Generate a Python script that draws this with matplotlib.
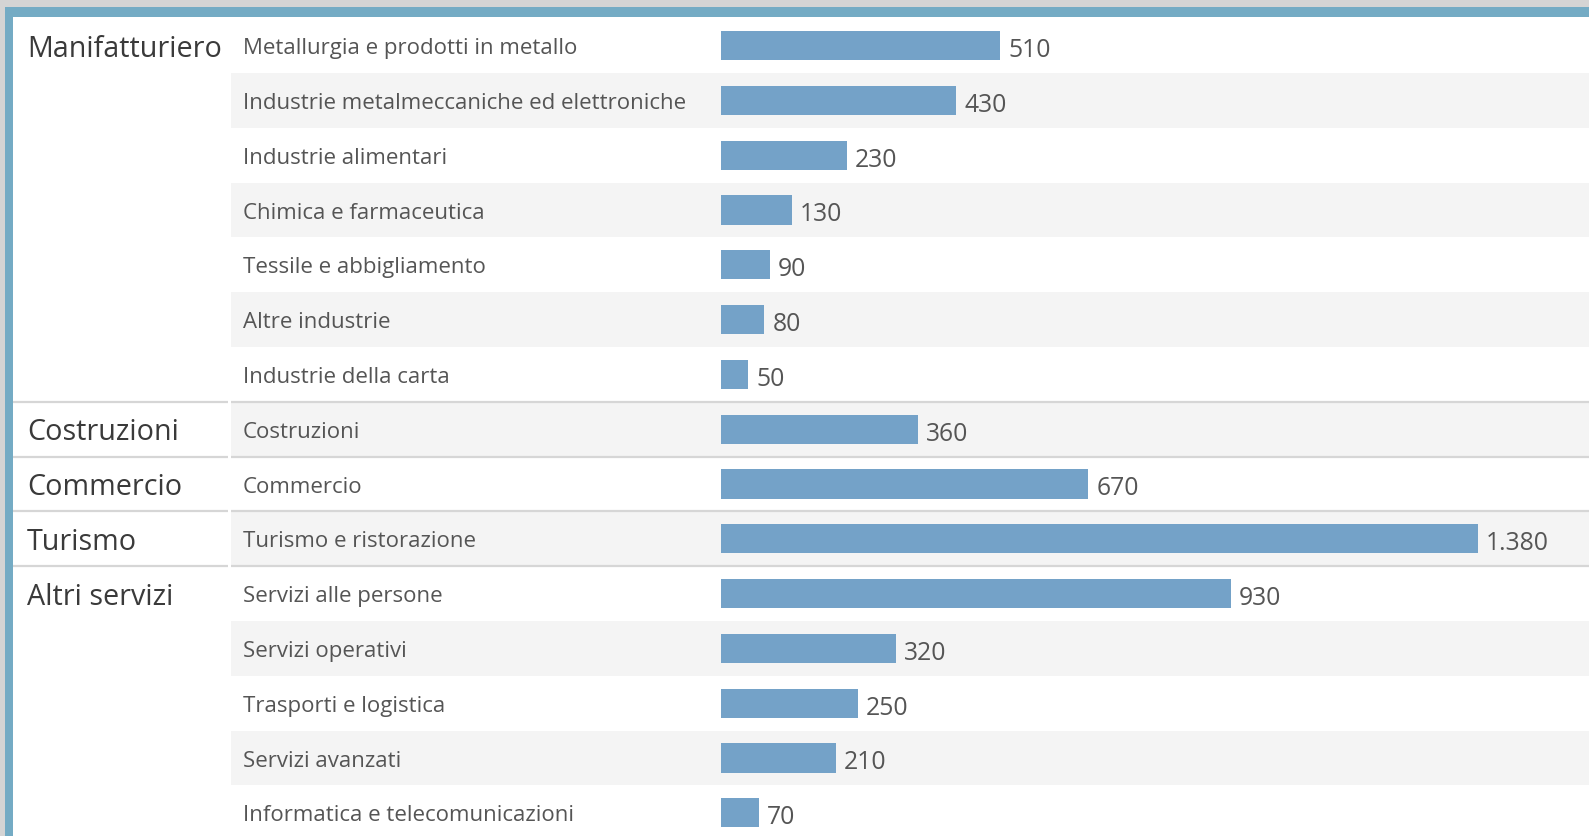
import matplotlib.pyplot as plt
from matplotlib.patches import Rectangle

plt.rcParams['font.family'] = ['Open Sans', 'DejaVu Sans']

# gruppi di settori e numero di righe per gruppo
gruppi = ["Manifatturiero", "Costruzioni", "Commercio", "Turismo", "Altri servizi"]
righe_per_gruppo = [7, 1, 1, 1, 5]

settori = [
    "Metallurgia e prodotti in metallo",
    "Industrie metalmeccaniche ed elettroniche",
    "Industrie alimentari",
    "Chimica e farmaceutica",
    "Tessile e abbigliamento",
    "Altre industrie",
    "Industrie della carta",
    "Costruzioni",
    "Commercio",
    "Turismo e ristorazione",
    "Servizi alle persone",
    "Servizi operativi",
    "Trasporti e logistica",
    "Servizi avanzati",
    "Informatica e telecomunicazioni",
]
valori = [510, 430, 230, 130, 90, 80, 50, 360, 670, 1380, 930, 320, 250, 210, 70]

W, H = 1589, 837
riga0, passo = 46.6, 54.8          # centro prima riga e altezza riga (px)
y_top = (0 - riga0) / passo
y_bot = (H - riga0) / passo
x_bar = 720.6                       # inizio barre (px)
px_per_unit = 0.5486

colore_barra = "#74a2c8"
colore_banda = "#f4f4f4"
colore_linea = "#d6d6d6"

fig = plt.figure(figsize=(W / 100, H / 100), dpi=100)
fig.patch.set_facecolor("white")

# asse di sfondo: x in pixel, y in righe
bg = fig.add_axes([0, 0, 1, 1])
bg.set_xlim(0, W)
bg.set_ylim(y_bot, y_top)
bg.axis("off")

n = len(settori)
for i in range(n):
    if i % 2 == 1:
        bg.axhspan(i - 0.5, i + 0.5, xmin=231 / W, xmax=1, color=colore_banda, lw=0, zorder=0)
    bg.text(243, i + 0.04, settori[i], fontsize=16, color="#555555", va="center", ha="left")

start = 0
for g, k in zip(gruppi, righe_per_gruppo):
    bg.text(27, start + 0.05, g, fontsize=20.7, color="#3a3a3a", va="center", ha="left")
    if start > 0:
        y = start - 0.5
        bg.plot([13, 228], [y, y], color=colore_linea, lw=1.6, zorder=2, solid_capstyle="butt")
        bg.plot([230.5, W], [y, y], color=colore_linea, lw=1.6, zorder=2, solid_capstyle="butt")
    start += k

# cornice superiore e sinistra
fig.patches.append(Rectangle((0, 1 - 8 / H), 1, 8 / H, transform=fig.transFigure,
                             color="#d4d4d4", lw=0, zorder=5))
fig.patches.append(Rectangle((0, 0), 5 / W, 1, transform=fig.transFigure,
                             color="#d4d4d4", lw=0, zorder=5))
fig.patches.append(Rectangle((5 / W, 1 - 17.5 / H), 1, 9.5 / H, transform=fig.transFigure,
                             color="#74abc4", lw=0, zorder=6))
fig.patches.append(Rectangle((5 / W, 0), 8 / W, 1 - 8 / H, transform=fig.transFigure,
                             color="#74abc4", lw=0, zorder=6))

# asse delle barre
ax = fig.add_axes([x_bar / W, 0, (W - x_bar) / W, 1])
ax.set_xlim(0, (W - x_bar) / px_per_unit)
ax.set_ylim(y_bot, y_top)
ax.patch.set_alpha(0)
ax.axis("off")

ax.barh(range(n), valori, height=0.53, color=colore_barra, zorder=3)
for i, v in enumerate(valori):
    etichetta = f"{v:,}".replace(",", ".")
    ax.text(v + 8 / px_per_unit, i + 0.07, etichetta, fontsize=17.8, color="#555555",
            va="center", ha="left")

fig.savefig("out.png", dpi=100)
